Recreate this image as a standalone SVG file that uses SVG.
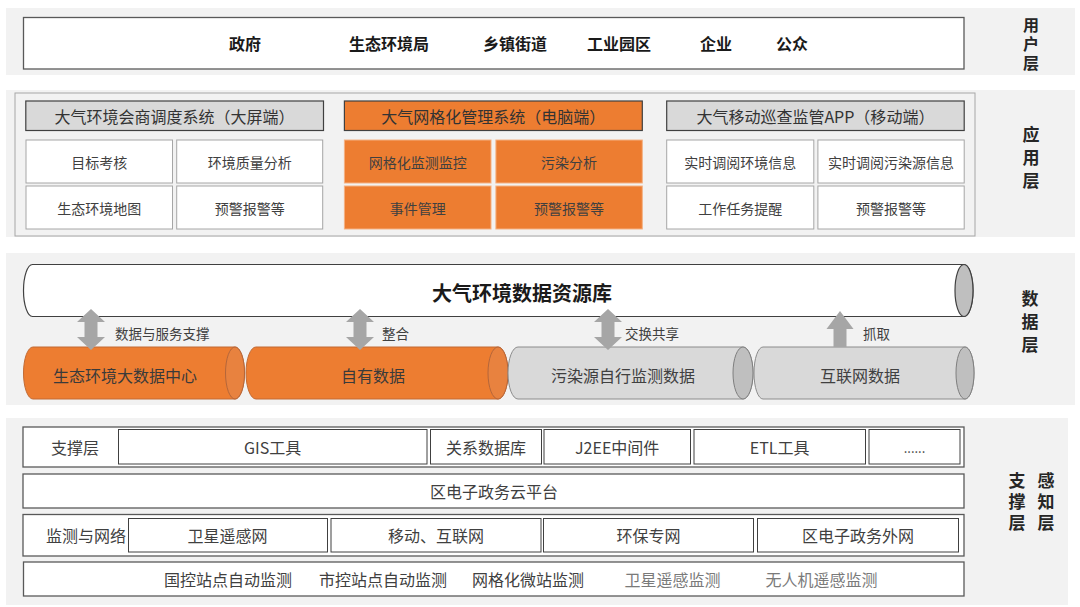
<svg xmlns="http://www.w3.org/2000/svg" width="1080" height="607" viewBox="0 0 1080 607">
<style>
text{font-family:"Noto Sans CJK SC","Noto Sans",sans-serif;dominant-baseline:central;text-anchor:middle;fill:#404040}
.band{fill:#f2f2f2}
.user{font-size:16px;font-weight:bold;fill:#1a1a1a}
.side{font-size:17px;font-weight:bold;fill:#262626;writing-mode:tb}
.hdr{font-size:16px;fill:#333}
.cell{font-size:14px}
.wcell{fill:#fff;stroke:#a6a6a6;stroke-width:1}
.ocell{fill:#ed7d31;stroke:#f4b183;stroke-width:1}
.box{fill:#fff;stroke:#595959;stroke-width:1.3}
.ibox{fill:#fff;stroke:#404040;stroke-width:1}
.t16{font-size:16px}
.lbl{font-size:13.5px;text-anchor:start}
.cylO{fill:#ed7d31;stroke:#c26b35;stroke-width:1}
.cylOe{fill:#e8823f;stroke:#b5663a;stroke-width:1}
.cylG{fill:#d9d9d9;stroke:#8c8c8c;stroke-width:1}
.cylGe{fill:#bfbfbf;stroke:#7f7f7f;stroke-width:1}
.arr{fill:#a6a6a6}
.faint{fill:#7a7a7a}
</style>
<!-- background bands -->
<rect class="band" x="6" y="8" width="1069" height="67"/>
<rect class="band" x="6" y="90" width="1069" height="147"/>
<rect class="band" x="6" y="253" width="1069" height="152"/>
<rect class="band" x="6" y="418" width="1062" height="187"/>

<!-- user layer -->
<g id="user-layer">
<rect x="23.5" y="17.5" width="940.5" height="51.5" fill="#fff" stroke="#595959" stroke-width="1.3"/>
<text class="user" x="245" y="43">政府</text>
<text class="user" x="389" y="43">生态环境局</text>
<text class="user" x="515" y="43">乡镇街道</text>
<text class="user" x="619" y="43">工业园区</text>
<text class="user" x="716" y="43">企业</text>
<text class="user" x="792" y="43">公众</text>
</g>
<g id="label-user">
<text class="side" x="1031" y="45.5" style="font-size:16px;letter-spacing:3px">用户层</text>
</g>

<!-- application layer -->
<g id="app-layer">
<rect x="15" y="93" width="960" height="143" fill="#f2f2f2" stroke="#a6a6a6" stroke-width="1"/>
</g>
<g id="app-screen">
<rect x="25.8" y="101" width="297.7" height="29.5" fill="#d9d9d9" stroke="#404040" stroke-width="1.2"/>
<text class="hdr" x="174.6" y="115.8">大气环境会商调度系统（大屏端）</text>
<rect class="wcell" x="26" y="140" width="146.5" height="43"/>
<text class="cell" x="99.2" y="161.5">目标考核</text>
<rect class="wcell" x="176.7" y="140" width="146" height="43"/>
<text class="cell" x="249.7" y="161.5">环境质量分析</text>
<rect class="wcell" x="26" y="186" width="146.5" height="43"/>
<text class="cell" x="99.2" y="207.5">生态环境地图</text>
<rect class="wcell" x="176.7" y="186" width="146" height="43"/>
<text class="cell" x="249.7" y="207.5">预警报警等</text>
</g>
<g id="app-pc">
<rect x="344.4" y="101" width="297.9" height="29.5" fill="#ed7d31" stroke="#404040" stroke-width="1.2"/>
<text class="hdr" x="493.3" y="115.8">大气网格化管理系统（电脑端）</text>
<rect class="ocell" x="344.4" y="140" width="146.6" height="43"/>
<text class="cell" x="417.7" y="161.5">网格化监测监控</text>
<rect class="ocell" x="495.9" y="140" width="146.4" height="43"/>
<text class="cell" x="569.1" y="161.5">污染分析</text>
<rect class="ocell" x="344.4" y="186" width="146.6" height="43"/>
<text class="cell" x="417.7" y="207.5">事件管理</text>
<rect class="ocell" x="495.9" y="186" width="146.4" height="43"/>
<text class="cell" x="569.1" y="207.5">预警报警等</text>
</g>
<g id="app-mobile">
<rect x="666.7" y="101" width="297.5" height="29.5" fill="#d9d9d9" stroke="#404040" stroke-width="1.2"/>
<text class="hdr" x="815.4" y="115.8">大气移动巡查监管APP（移动端）</text>
<rect class="wcell" x="666.7" y="140" width="147.1" height="43"/>
<text class="cell" x="740.2" y="161.5">实时调阅环境信息</text>
<rect class="wcell" x="817.9" y="140" width="146.3" height="43"/>
<text class="cell" x="891" y="161.5">实时调阅污染源信息</text>
<rect class="wcell" x="666.7" y="186" width="147.1" height="43"/>
<text class="cell" x="740.2" y="207.5">工作任务提醒</text>
<rect class="wcell" x="817.9" y="186" width="146.3" height="43"/>
<text class="cell" x="891" y="207.5">预警报警等</text>
</g>
<g id="label-app">
<text class="side" x="1031" y="161" style="letter-spacing:6px">应用层</text>
</g>

<!-- data layer -->
<g id="data-repo">
<path d="M32.5,264.5 L964,264.5 A9,26 0 0 1 964,316.5 L32.5,316.5 A9,26 0 0 1 32.5,264.5 Z" fill="#fff" stroke="#404040" stroke-width="1.2"/>
<ellipse cx="964" cy="290.5" rx="9" ry="26" fill="#bfbfbf" stroke="#404040" stroke-width="1.2"/>
<text x="522" y="292" style="font-size:20px;font-weight:bold;fill:#1a1a1a">大气环境数据资源库</text>
</g>
<g id="data-center">
<path class="cylO" d="M33,347 L235,347 A9.5,26 0 0 1 235,399 L33,399 A9.5,26 0 0 1 33,347 Z"/>
<ellipse class="cylOe" cx="235" cy="373" rx="9.5" ry="26"/>
<text class="t16" x="125" y="375" style="fill:#3a3a3a">生态环境大数据中心</text>
</g>
<g id="data-own">
<path class="cylO" d="M256,347 L498,347 A10,26 0 0 1 498,399 L256,399 A10,26 0 0 1 256,347 Z"/>
<ellipse class="cylOe" cx="498" cy="373" rx="10" ry="26"/>
<text class="t16" x="373" y="375" style="fill:#3a3a3a">自有数据</text>
</g>
<g id="data-pollution">
<path class="cylG" d="M518,347 L743,347 A10,26 0 0 1 743,399 L518,399 A10,26 0 0 1 518,347 Z"/>
<ellipse class="cylGe" cx="743" cy="373" rx="10" ry="26"/>
<text class="t16" x="623" y="375">污染源自行监测数据</text>
</g>
<g id="data-internet">
<path class="cylG" d="M763,347 L965,347 A9,26 0 0 1 965,399 L763,399 A9,26 0 0 1 763,347 Z"/>
<ellipse class="cylGe" cx="965" cy="373" rx="9" ry="26"/>
<text class="t16" x="860" y="375">互联网数据</text>
</g>
<g id="connectors">
<polygon class="arr" points="91,309 105,322 97.5,322 97.5,337 105,337 91,350 77,337 84.5,337 84.5,322 77,322"/>
<text class="lbl" x="115" y="333">数据与服务支撑</text>
<polygon class="arr" points="360,309 374,322 366.5,322 366.5,337 374,337 360,350 346,337 353.5,337 353.5,322 346,322"/>
<text class="lbl" x="382" y="333">整合</text>
<polygon class="arr" points="608,309 622,322 614.5,322 614.5,337 622,337 608,350 594,337 601.5,337 601.5,322 594,322"/>
<text class="lbl" x="625" y="333">交换共享</text>
<polygon class="arr" points="840,311 853.5,329 846.5,329 846.5,347 833.5,347 833.5,329 826.5,329"/>
<text class="lbl" x="863" y="333">抓取</text>
</g>
<g id="label-data">
<text class="side" x="1030" y="325" style="letter-spacing:6px">数据层</text>
</g>

<!-- support / perception layer -->
<g id="support-row">
<rect class="box" x="23" y="427" width="941" height="40"/>
<text class="t16" x="75" y="447">支撑层</text>
<rect class="ibox" x="118.5" y="429.5" width="308.5" height="34.5"/>
<text class="t16" x="272.7" y="447">GIS工具</text>
<rect class="ibox" x="430.5" y="429.5" width="111" height="34.5"/>
<text class="t16" x="486" y="447">关系数据库</text>
<rect class="ibox" x="544" y="429.5" width="146.5" height="34.5"/>
<text class="t16" x="617.2" y="447">J2EE中间件</text>
<rect class="ibox" x="694" y="429.5" width="171.5" height="34.5"/>
<text class="t16" x="779.7" y="447">ETL工具</text>
<rect class="ibox" x="869" y="429.5" width="91" height="34.5"/>
<text class="t16" x="914.5" y="447" style="font-size:13px">......</text>
</g>
<g id="cloud-row">
<rect class="box" x="23" y="474" width="941" height="34"/>
<text class="t16" x="494" y="491">区电子政务云平台</text>
</g>
<g id="network-row">
<rect class="box" x="23" y="514.5" width="941" height="41.5"/>
<text class="t16" x="86" y="535">监测与网络</text>
<rect class="ibox" x="128.5" y="518.5" width="199" height="33.5"/>
<text class="t16" x="227.5" y="535">卫星遥感网</text>
<rect class="ibox" x="331" y="518.5" width="210" height="33.5"/>
<text class="t16" x="436" y="535">移动、互联网</text>
<rect class="ibox" x="543.5" y="518.5" width="210" height="33.5"/>
<text class="t16" x="648.5" y="535">环保专网</text>
<rect class="ibox" x="757.5" y="518.5" width="201" height="33.5"/>
<text class="t16" x="858" y="535">区电子政务外网</text>
</g>
<g id="monitor-row">
<rect class="box" x="23.5" y="562" width="940.5" height="34"/>
<text class="t16" x="228" y="579">国控站点自动监测</text>
<text class="t16" x="383" y="579">市控站点自动监测</text>
<text class="t16" x="528" y="579">网格化微站监测</text>
<text class="t16 faint" x="672.5" y="579">卫星遥感监测</text>
<text class="t16 faint" x="821.5" y="579">无人机遥感监测</text>
</g>
<g id="label-support">
<text class="side" x="1017" y="504" style="letter-spacing:4px">支撑层</text>
<text class="side" x="1046" y="504" style="letter-spacing:4px">感知层</text>
</g>
</svg>
